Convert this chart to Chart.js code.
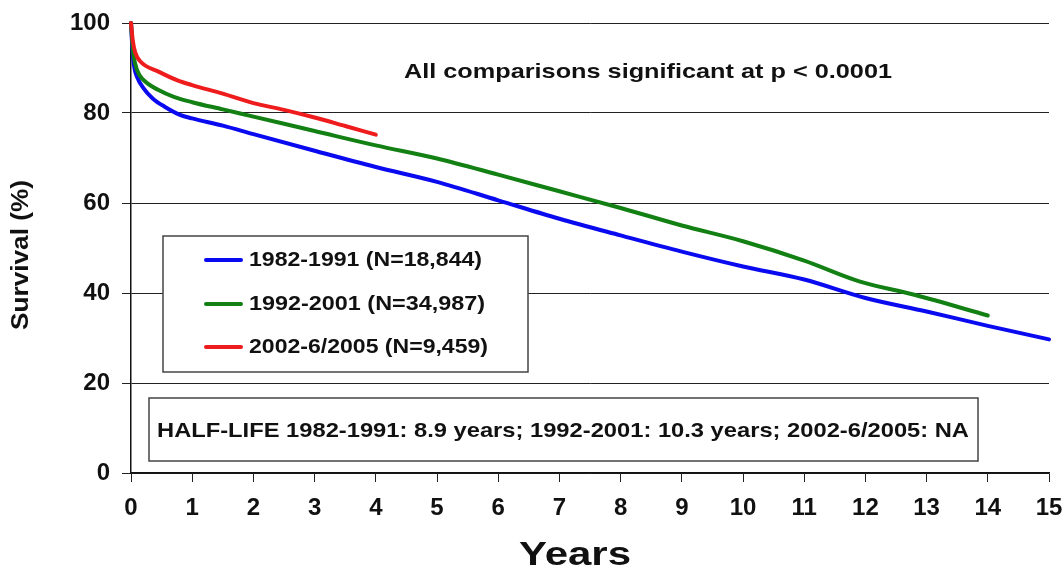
<!DOCTYPE html>
<html>
<head>
<meta charset="utf-8">
<script src="https://cdn.jsdelivr.net/npm/chart.js@4.4.1/dist/chart.umd.min.js"></script>
<style>
  html, body { margin: 0; padding: 0; background: #fff; }
  #wrap { width: 1064px; height: 572px; }
</style>
</head>
<body>
<div id="wrap"><canvas id="c" width="1064" height="572"></canvas></div>
<script>
// Kaplan-Meier style survival curves by era (years after transplant vs. % surviving)
const years8291 = [0, 0.02, 0.05, 0.1, 0.2, 0.35, 0.55, 0.8, 1, 1.5, 2, 3, 4, 5, 6, 7, 8, 9, 10, 11, 12, 13, 14, 15];
const surv8291  = [100, 95, 90.5, 88, 85.6, 83.3, 81.4, 79.6, 78.8, 77.2, 75.3, 71.6, 68, 64.7, 60.6, 56.5, 52.8, 49.2, 45.9, 43, 38.9, 35.9, 32.7, 29.7];

const years9201 = [0, 0.02, 0.04, 0.1, 0.2, 0.45, 0.7, 1, 1.5, 2, 3, 4, 5, 6, 7, 8, 9, 10, 11, 11.9, 12.8, 14];
const surv9201  = [100, 96, 93, 89.5, 87.4, 85.1, 83.6, 82.4, 80.8, 79.2, 76, 72.8, 69.9, 66.3, 62.6, 58.9, 55, 51.5, 47.2, 42.6, 39.6, 35];

const years0205 = [0, 0.03, 0.07, 0.15, 0.45, 0.77, 1, 1.5, 2, 2.5, 3, 3.5, 4];
const surv0205  = [100, 96, 93.4, 91.5, 89.2, 87.2, 86.2, 84.3, 82.2, 80.7, 79, 77.1, 75.2];

const seriesLabels = ['1982-1991 (N=18,844)', '1992-2001 (N=34,987)', '2002-6/2005 (N=9,459)'];
const seriesColors = ['#0a0af0', '#138013', '#ee1c1c'];

const yTicks = [0, 20, 40, 60, 80, 100];
const xTicks = [0,1,2,3,4,5,6,7,8,9,10,11,12,13,14,15];

const noteText = 'All comparisons significant at p < 0.0001';
const halfLifeText = 'HALF-LIFE 1982-1991: 8.9 years; 1992-2001: 10.3 years; 2002-6/2005: NA';
const xTitle = 'Years';
const yTitle = 'Survival (%)';

const FONT = '"Liberation Sans", Arial, sans-serif';

function pairs(xs, ys) { return xs.map((x, i) => ({ x: x, y: ys[i] })); }

// draw bold text, optionally stretched/condensed horizontally to a given width
function fitText(ctx, text, x, y, size, width, align) {
  ctx.save();
  ctx.font = 'bold ' + size + 'px ' + FONT;
  const w = ctx.measureText(text).width;
  const sx = width ? width / w : 1;
  const drawnW = w * sx;
  let left = x;
  if (align === 'center') left = x - drawnW / 2;
  ctx.translate(left, y);
  ctx.scale(sx, 1);
  ctx.textAlign = 'left';
  ctx.textBaseline = 'middle';
  ctx.fillStyle = '#111';
  ctx.fillText(text, 0, 0);
  ctx.restore();
}

const legendWidths = [233, 236, 239];

const overlays = {
  id: 'overlays',
  afterDatasetsDraw(chart) {
    const ctx = chart.ctx;
    // legend box
    ctx.save();
    ctx.fillStyle = '#fff';
    ctx.fillRect(163, 236, 365, 136);
    ctx.strokeStyle = '#444';
    ctx.lineWidth = 1.5;
    ctx.strokeRect(163, 236, 365, 136);
    const rows = [260, 304, 347];
    rows.forEach((ry, i) => {
      ctx.strokeStyle = seriesColors[i];
      ctx.lineWidth = 4;
      ctx.lineCap = 'round';
      ctx.beginPath();
      ctx.moveTo(206, ry);
      ctx.lineTo(241, ry);
      ctx.stroke();
      fitText(ctx, seriesLabels[i], 249, ry, 20, legendWidths[i], 'left');
    });
    ctx.restore();

    // half-life box
    ctx.save();
    ctx.fillStyle = '#fff';
    ctx.fillRect(149, 398, 829, 63);
    ctx.strokeStyle = '#444';
    ctx.lineWidth = 1.5;
    ctx.strokeRect(149, 398, 829, 63);
    ctx.restore();
    fitText(ctx, halfLifeText, 157, 431, 21, 812, 'left');

    // note
    fitText(ctx, noteText, 648, 72, 21, 488, 'center');
  },
  afterDraw(chart) {
    const ctx = chart.ctx;
    fitText(ctx, xTitle, 575, 556, 34, 112, 'center');
    ctx.save();
    ctx.translate(22, 255);
    ctx.rotate(-Math.PI / 2);
    fitText(ctx, yTitle, 0, 0, 23, 150, 'center');
    ctx.restore();
  }
};

const lineStyle = (color, order) => ({
  borderColor: color,
  backgroundColor: color,
  borderWidth: 4,
  pointRadius: 0,
  pointHoverRadius: 0,
  fill: false,
  cubicInterpolationMode: 'monotone',
  borderCapStyle: 'round',
  borderJoinStyle: 'round',
  showLine: true,
  clip: false,
  order: order
});

new Chart(document.getElementById('c'), {
  type: 'scatter',
  data: {
    datasets: [
      Object.assign({ label: seriesLabels[0], data: pairs(years8291, surv8291) }, lineStyle(seriesColors[0], 3)),
      Object.assign({ label: seriesLabels[1], data: pairs(years9201, surv9201) }, lineStyle(seriesColors[1], 2)),
      Object.assign({ label: seriesLabels[2], data: pairs(years0205, surv0205) }, lineStyle(seriesColors[2], 1))
    ]
  },
  options: {
    responsive: false,
    animation: false,
    events: [],
    layout: { padding: { top: 23, right: 15, left: 0, bottom: 0 } },
    plugins: { legend: { display: false }, tooltip: { enabled: false }, title: { display: false } },
    scales: {
      x: {
        type: 'linear',
        min: 0, max: 15,
        afterFit(scale) { scale.height = 99; scale.paddingLeft = 0; scale.paddingRight = 0; },
        afterBuildTicks(scale) { scale.ticks = xTicks.map(v => ({ value: v })); },
        ticks: {
          color: '#111',
          padding: 12,
          maxRotation: 0,
          autoSkip: false,
          font: { family: FONT, size: 24, weight: 'bold' }
        },
        grid: { drawOnChartArea: false, drawTicks: true, tickLength: 9, color: '#222', lineWidth: 1 },
        border: { display: true, color: '#111', width: 1.5 }
      },
      y: {
        type: 'linear',
        min: 0, max: 100,
        afterFit(scale) { scale.width = 131; scale.paddingTop = 0; scale.paddingBottom = 0; },
        afterBuildTicks(scale) { scale.ticks = yTicks.map(v => ({ value: v })); },
        ticks: {
          color: '#111',
          padding: 12,
          font: { family: FONT, size: 24, weight: 'bold' }
        },
        grid: { drawOnChartArea: true, drawTicks: true, tickLength: 9, color: '#222', lineWidth: 1 },
        border: { display: true, color: '#111', width: 1.5 }
      }
    }
  },
  plugins: [overlays]
});
</script>
</body>
</html>
